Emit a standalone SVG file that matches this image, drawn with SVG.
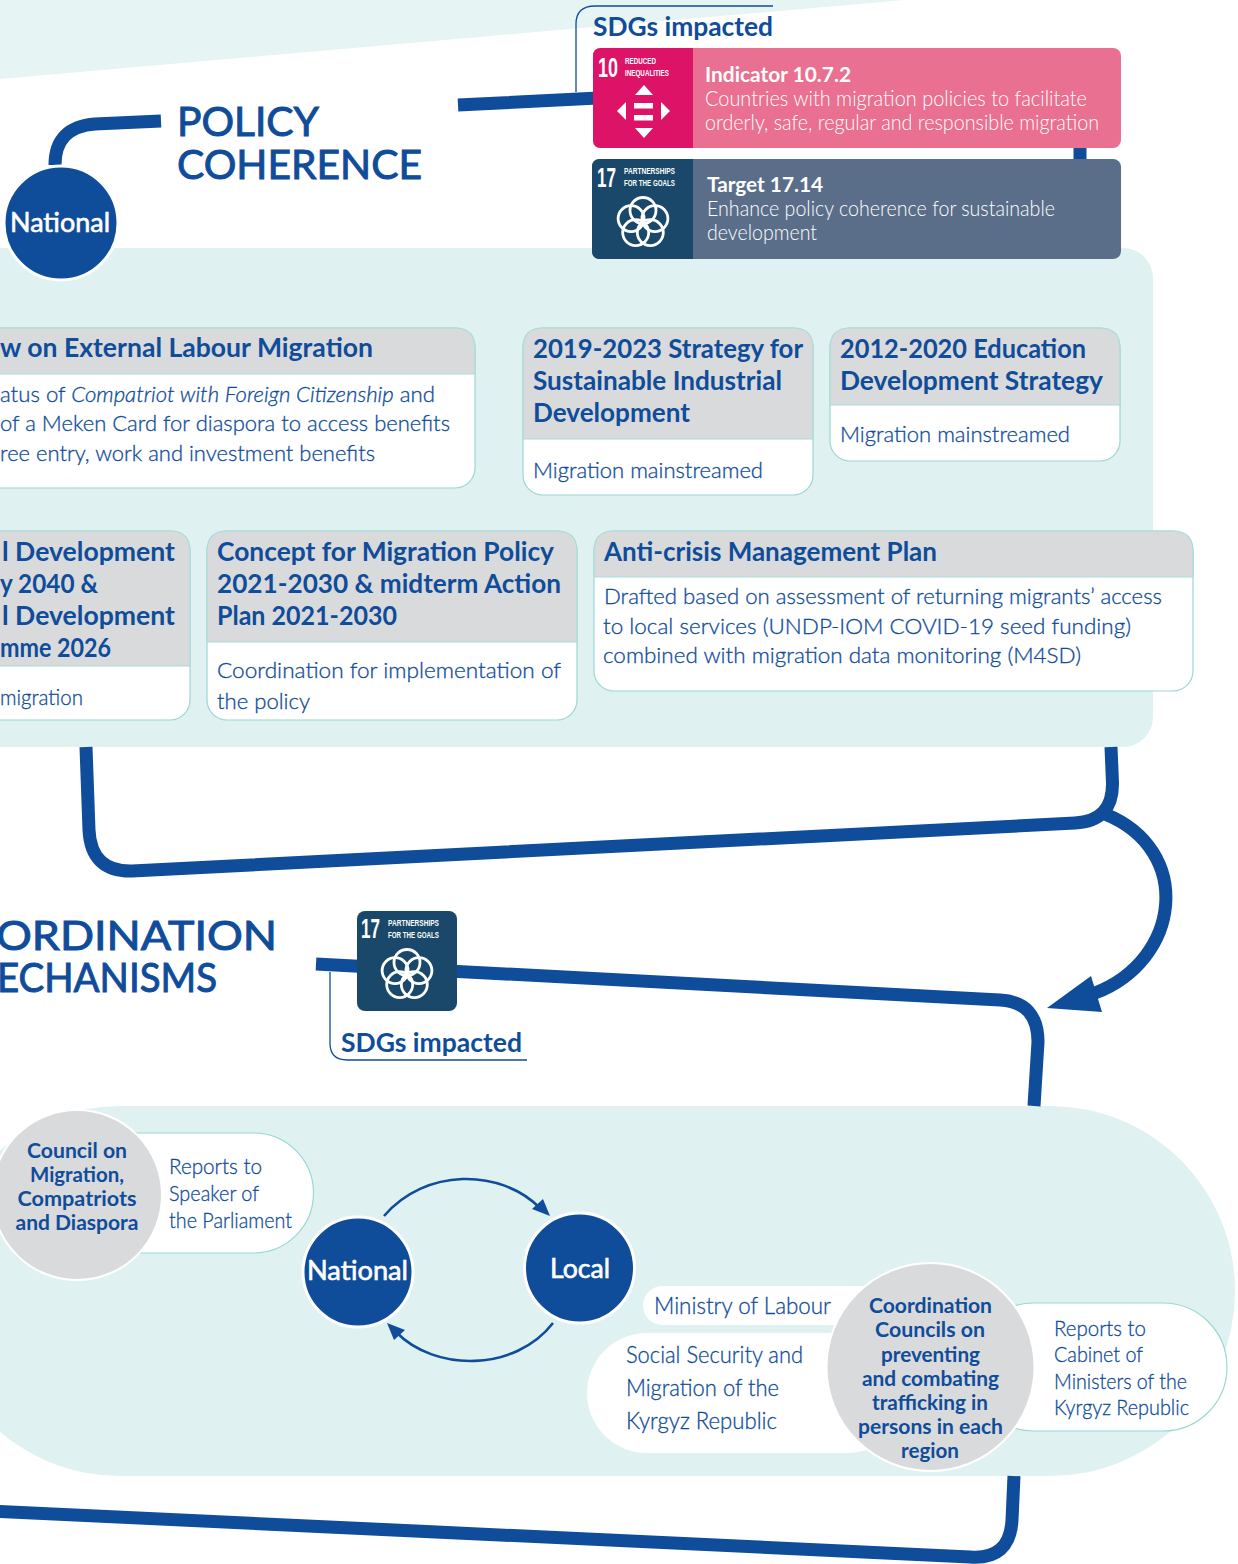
<svg xmlns="http://www.w3.org/2000/svg" width="1238" height="1564" viewBox="0 0 1238 1564">
<style>
text{font-family:"Lato","Liberation Sans",sans-serif;fill:#0f4c9a}
.b{font-size:21px;font-weight:300;stroke:#0f4c9a;stroke-width:.3}
.h{font-size:26px;font-weight:700}
.t{font-size:41px;font-weight:400;stroke:#0f4c9a;stroke-width:1}
.s{font-size:26px;font-weight:700}
.c{font-size:21px;font-weight:700;text-anchor:middle}
.n{font-size:26px;font-weight:400;fill:#fff;stroke:#fff;stroke-width:.6}
.w{font-size:21px;font-weight:300;fill:#fff}
.wb{font-size:21px;font-weight:700;fill:#fff}
.g{font-family:"Liberation Sans Narrow","Liberation Sans",sans-serif;font-size:9px;font-weight:700;fill:#fff}
.gn{font-family:"Liberation Sans Narrow","Liberation Sans",sans-serif;font-size:27px;font-weight:700;fill:#fff}
.card{fill:#fff;stroke:#9ad8d2;stroke-width:1.2}
.hd{fill:#d9dadc;stroke:#a9dcd8;stroke-width:1.2}
.ln{fill:none;stroke:#0f4c9a;stroke-width:13}
.thin{fill:none;stroke:#0f4c9a;stroke-width:1.3}
.arc{fill:none;stroke:#0f4c9a;stroke-width:2.6}
.dot{fill:#0f4c9a;stroke:#fff;stroke-width:3}
.gr{fill:#d9dadc;stroke:#fff;stroke-width:2}
.ic{fill:#fff}
.pet{fill:none;stroke:#fff;stroke-width:2.8}
</style>
<defs>
<g id="flower">
<circle class="pet" cx="0" cy="-12" r="13"/>
<circle class="pet" cx="11.900" cy="-3.900" r="13"/>
<circle class="pet" cx="7.300" cy="10.100" r="13"/>
<circle class="pet" cx="-7.300" cy="10.100" r="13"/>
<circle class="pet" cx="-11.900" cy="-3.900" r="13"/>
</g>
</defs>
<rect width="1238" height="1564" fill="#fff"/>
<g id="backgrounds">
<polygon points="0,0 905,0 570,29 0,79" fill="#e6f4f4"/>
<rect x="-60" y="248" width="1213" height="499" rx="30" fill="#dff1f1"/>
<rect x="-65" y="1106" width="1300" height="370" rx="185" fill="#dff1f1"/>
</g>
<g id="connectors">
<path class="ln" d="M161,121 L95,124 Q55,127 55,165"/>
<path class="ln" d="M458,105 L1040,76 Q1080,76 1080,110 L1080,160"/>
<path class="ln" d="M86,747 L89,830 Q91,872 132,871 L1075,823 Q1113,821 1112.500,783 L1111,747"/>
<path class="ln" d="M1105,814 C1194,850 1181,960 1095,993"/>
<polygon fill="#0f4c9a" points="1047,1008 1091,976 1102,1012"/>
<path class="ln" d="M316,964 L1000,1000 Q1038,1002 1038,1042 L1034,1106"/>
<path class="ln" d="M-10,1511 L970,1557 Q1010,1560 1012,1520 L1014,1476"/>
<path class="thin" d="M576,92 V24 Q576,6 595,6 H773"/>
<path class="thin" d="M330,972 V1043 Q330,1060 347,1060 H527"/>
<path class="arc" d="M384,1216 C425,1168 500,1168 540,1208"/>
<polygon fill="#0f4c9a" points="550,1216 532,1209 543,1199"/>
<path class="arc" d="M553,1323 C515,1372 435,1372 396,1332"/>
<polygon fill="#0f4c9a" points="387,1323 405,1330 394,1340"/>
</g>
<g id="title-policy">
<text class="t" x="177" y="136" textLength="142" lengthAdjust="spacingAndGlyphs">POLICY</text>
<text class="t" x="177" y="179" textLength="245" lengthAdjust="spacingAndGlyphs">COHERENCE</text>
</g>
<g id="sdgs-top">
<text class="s" x="593" y="36" textLength="180" lengthAdjust="spacingAndGlyphs">SDGs impacted</text>
<rect x="593" y="48" width="528" height="100" rx="8" fill="#e97090"/>
<path d="M601,48 H693 V148 H601 Q593,148 593,140 V56 Q593,48 601,48Z" fill="#dd1367"/>
<text class="gn" x="598" y="77" textLength="20" lengthAdjust="spacingAndGlyphs">10</text>
<text class="g" x="625" y="64" textLength="31" lengthAdjust="spacingAndGlyphs">REDUCED</text>
<text class="g" x="625" y="76" textLength="44" lengthAdjust="spacingAndGlyphs">INEQUALITIES</text>
<polygon class="ic" points="644,85 653,95 635,95"/>
<rect class="ic" x="634" y="103" width="19" height="5.500"/>
<rect class="ic" x="634" y="115" width="19" height="5.500"/>
<polygon class="ic" points="644,138 653,128 635,128"/>
<polygon class="ic" points="617,111 626,102 626,120"/>
<polygon class="ic" points="670,111 661,102 661,120"/>
<text class="wb" x="705" y="82" textLength="146" lengthAdjust="spacingAndGlyphs">Indicator 10.7.2</text>
<text class="w" x="705" y="106" textLength="382" lengthAdjust="spacingAndGlyphs">Countries with migration policies to facilitate</text>
<text class="w" x="705" y="130" textLength="394" lengthAdjust="spacingAndGlyphs">orderly, safe, regular and responsible migration</text>
<rect x="592" y="159" width="529" height="100" rx="8" fill="#5a6e8a"/>
<path d="M600,159 H693 V259 H600 Q592,259 592,251 V167 Q592,159 600,159Z" fill="#19486a"/>
<text class="gn" x="597" y="187" textLength="19" lengthAdjust="spacingAndGlyphs">17</text>
<text class="g" x="624" y="174" textLength="51" lengthAdjust="spacingAndGlyphs">PARTNERSHIPS</text>
<text class="g" x="624" y="186" textLength="51" lengthAdjust="spacingAndGlyphs">FOR THE GOALS</text>
<use href="#flower" x="643" y="222.500"/>
<text class="wb" x="707" y="192" textLength="116" lengthAdjust="spacingAndGlyphs">Target 17.14</text>
<text class="w" x="707" y="216" textLength="348" lengthAdjust="spacingAndGlyphs">Enhance policy coherence for sustainable</text>
<text class="w" x="707" y="240" textLength="110" lengthAdjust="spacingAndGlyphs">development</text>
</g>
<g id="national-top">
<circle class="dot" cx="61" cy="223" r="57"/>
<text class="n" x="10" y="232" textLength="100" lengthAdjust="spacingAndGlyphs">National</text>
</g>
<g id="card-law">
<rect class="card" x="-40" y="328" width="515" height="160" rx="20"/>
<path class="hd" d="M-40,374 V348 Q-40,328 -20,328 H455 Q475,328 475,348 V374Z"/>
<text class="h" x="0" y="357" textLength="373" lengthAdjust="spacingAndGlyphs">w on External Labour Migration</text>
<text class="b" x="0" y="402" textLength="435" lengthAdjust="spacingAndGlyphs">atus of <tspan font-style="italic">Compatriot with Foreign Citizenship</tspan> and</text>
<text class="b" x="0" y="431" textLength="450" lengthAdjust="spacingAndGlyphs">of a Meken Card for diaspora to access benefits</text>
<text class="b" x="0" y="461" textLength="375" lengthAdjust="spacingAndGlyphs">ree entry, work and investment benefits</text>
</g>
<g id="card-industrial">
<rect class="card" x="523" y="328" width="290" height="167" rx="20"/>
<path class="hd" d="M523,439 V348 Q523,328 543,328 H793 Q813,328 813,348 V439Z"/>
<text class="h" x="533" y="358" textLength="270" lengthAdjust="spacingAndGlyphs">2019-2023 Strategy for</text>
<text class="h" x="533" y="390" textLength="249" lengthAdjust="spacingAndGlyphs">Sustainable Industrial</text>
<text class="h" x="533" y="422" textLength="157" lengthAdjust="spacingAndGlyphs">Development</text>
<text class="b" x="533" y="478" textLength="230" lengthAdjust="spacingAndGlyphs">Migration mainstreamed</text>
</g>
<g id="card-education">
<rect class="card" x="830" y="328" width="290" height="133" rx="20"/>
<path class="hd" d="M830,405 V348 Q830,328 850,328 H1100 Q1120,328 1120,348 V405Z"/>
<text class="h" x="840" y="358" textLength="246" lengthAdjust="spacingAndGlyphs">2012-2020 Education</text>
<text class="h" x="840" y="390" textLength="263" lengthAdjust="spacingAndGlyphs">Development Strategy</text>
<text class="b" x="840" y="442" textLength="230" lengthAdjust="spacingAndGlyphs">Migration mainstreamed</text>
</g>
<g id="card-development">
<rect class="card" x="-40" y="531" width="230" height="189" rx="20"/>
<path class="hd" d="M-40,666 V551 Q-40,531 -20,531 H170 Q190,531 190,551 V666Z"/>
<text class="h" x="2" y="561" textLength="173" lengthAdjust="spacingAndGlyphs">l Development</text>
<text class="h" x="0" y="593" textLength="98" lengthAdjust="spacingAndGlyphs">y 2040 &amp;</text>
<text class="h" x="2" y="625" textLength="173" lengthAdjust="spacingAndGlyphs">l Development</text>
<text class="h" x="0" y="657" textLength="111" lengthAdjust="spacingAndGlyphs">mme 2026</text>
<text class="b" x="0" y="705" textLength="83" lengthAdjust="spacingAndGlyphs">migration</text>
</g>
<g id="card-concept">
<rect class="card" x="207" y="531" width="370" height="189" rx="20"/>
<path class="hd" d="M207,642 V551 Q207,531 227,531 H557 Q577,531 577,551 V642Z"/>
<text class="h" x="217" y="561" textLength="337" lengthAdjust="spacingAndGlyphs">Concept for Migration Policy</text>
<text class="h" x="217" y="593" textLength="344" lengthAdjust="spacingAndGlyphs">2021-2030 &amp; midterm Action</text>
<text class="h" x="217" y="625" textLength="180" lengthAdjust="spacingAndGlyphs">Plan 2021-2030</text>
<text class="b" x="217" y="678" textLength="344" lengthAdjust="spacingAndGlyphs">Coordination for implementation of</text>
<text class="b" x="217" y="709" textLength="93" lengthAdjust="spacingAndGlyphs">the policy</text>
</g>
<g id="card-anticrisis">
<rect class="card" x="594" y="531" width="599" height="160" rx="20"/>
<path class="hd" d="M594,577 V551 Q594,531 614,531 H1173 Q1193,531 1193,551 V577Z"/>
<text class="h" x="604" y="561" textLength="333" lengthAdjust="spacingAndGlyphs">Anti-crisis Management Plan</text>
<text class="b" x="604" y="604" textLength="558" lengthAdjust="spacingAndGlyphs">Drafted based on assessment of returning migrants’ access</text>
<text class="b" x="603" y="634" textLength="528" lengthAdjust="spacingAndGlyphs">to local services (UNDP-IOM COVID-19 seed funding)</text>
<text class="b" x="603" y="663" textLength="478" lengthAdjust="spacingAndGlyphs">combined with migration data monitoring (M4SD)</text>
</g>
<g id="title-coordination">
<text class="t" x="-4" y="950" textLength="281" lengthAdjust="spacingAndGlyphs">ORDINATION</text>
<text class="t" x="-3" y="992" textLength="220" lengthAdjust="spacingAndGlyphs">ECHANISMS</text>
</g>
<g id="sdgs-bottom">
<rect x="357" y="911" width="100" height="100" rx="8" fill="#19486a"/>
<text class="gn" x="361" y="938" textLength="19" lengthAdjust="spacingAndGlyphs">17</text>
<text class="g" x="388" y="926" textLength="51" lengthAdjust="spacingAndGlyphs">PARTNERSHIPS</text>
<text class="g" x="388" y="938" textLength="51" lengthAdjust="spacingAndGlyphs">FOR THE GOALS</text>
<use href="#flower" x="407" y="974.500"/>
<text class="s" x="341" y="1052" textLength="181" lengthAdjust="spacingAndGlyphs">SDGs impacted</text>
</g>
<g id="council">
<rect class="card" x="70" y="1133" width="243.500" height="120" rx="60"/>
<circle class="gr" cx="77" cy="1195" r="85"/>
<text class="c" x="77" y="1158" textLength="100" lengthAdjust="spacingAndGlyphs">Council on</text>
<text class="c" x="77" y="1182" textLength="94" lengthAdjust="spacingAndGlyphs">Migration,</text>
<text class="c" x="77" y="1206" textLength="119" lengthAdjust="spacingAndGlyphs">Compatriots</text>
<text class="c" x="77" y="1230" textLength="123" lengthAdjust="spacingAndGlyphs">and Diaspora</text>
<text class="b" x="169" y="1174" textLength="93" lengthAdjust="spacingAndGlyphs">Reports to</text>
<text class="b" x="169" y="1201" textLength="90" lengthAdjust="spacingAndGlyphs">Speaker of</text>
<text class="b" x="169" y="1228" textLength="123" lengthAdjust="spacingAndGlyphs">the Parliament</text>
</g>
<g id="national-bottom">
<circle class="dot" cx="358" cy="1272" r="55"/>
<text class="n" x="307" y="1280" textLength="101" lengthAdjust="spacingAndGlyphs">National</text>
</g>
<g id="local">
<circle class="dot" cx="579.500" cy="1268" r="55"/>
<text class="n" x="550" y="1278" textLength="60" lengthAdjust="spacingAndGlyphs">Local</text>
</g>
<g id="ministry">
<rect x="643" y="1286" width="240" height="39" rx="19.500" fill="#fff"/>
<rect x="587" y="1333" width="320" height="120" rx="60" fill="#fff"/>
<text class="b" style="font-size:23px" x="654" y="1314" textLength="177" lengthAdjust="spacingAndGlyphs">Ministry of Labour</text>
<text class="b" style="font-size:23px" x="626" y="1363" textLength="177" lengthAdjust="spacingAndGlyphs">Social Security and</text>
<text class="b" style="font-size:23px" x="626" y="1396" textLength="153" lengthAdjust="spacingAndGlyphs">Migration of the</text>
<text class="b" style="font-size:23px" x="626" y="1429" textLength="151" lengthAdjust="spacingAndGlyphs">Kyrgyz Republic</text>
</g>
<g id="coordination-councils">
<rect class="card" x="970" y="1303" width="257" height="128" rx="64"/>
<circle class="gr" cx="930.500" cy="1367" r="104"/>
<text class="c" x="930.500" y="1313" textLength="123" lengthAdjust="spacingAndGlyphs">Coordination</text>
<text class="c" x="930" y="1337" textLength="110" lengthAdjust="spacingAndGlyphs">Councils on</text>
<text class="c" x="930.500" y="1362" textLength="99" lengthAdjust="spacingAndGlyphs">preventing</text>
<text class="c" x="930.500" y="1386" textLength="137" lengthAdjust="spacingAndGlyphs">and combating</text>
<text class="c" x="930" y="1410" textLength="116" lengthAdjust="spacingAndGlyphs">trafficking in</text>
<text class="c" x="930.500" y="1434" textLength="145" lengthAdjust="spacingAndGlyphs">persons in each</text>
<text class="c" x="930" y="1458" textLength="58" lengthAdjust="spacingAndGlyphs">region</text>
<text class="b" x="1054" y="1336" textLength="92" lengthAdjust="spacingAndGlyphs">Reports to</text>
<text class="b" x="1054" y="1362" textLength="89" lengthAdjust="spacingAndGlyphs">Cabinet of</text>
<text class="b" x="1054" y="1389" textLength="133" lengthAdjust="spacingAndGlyphs">Ministers of the</text>
<text class="b" x="1054" y="1415" textLength="135" lengthAdjust="spacingAndGlyphs">Kyrgyz Republic</text>
</g>
</svg>
